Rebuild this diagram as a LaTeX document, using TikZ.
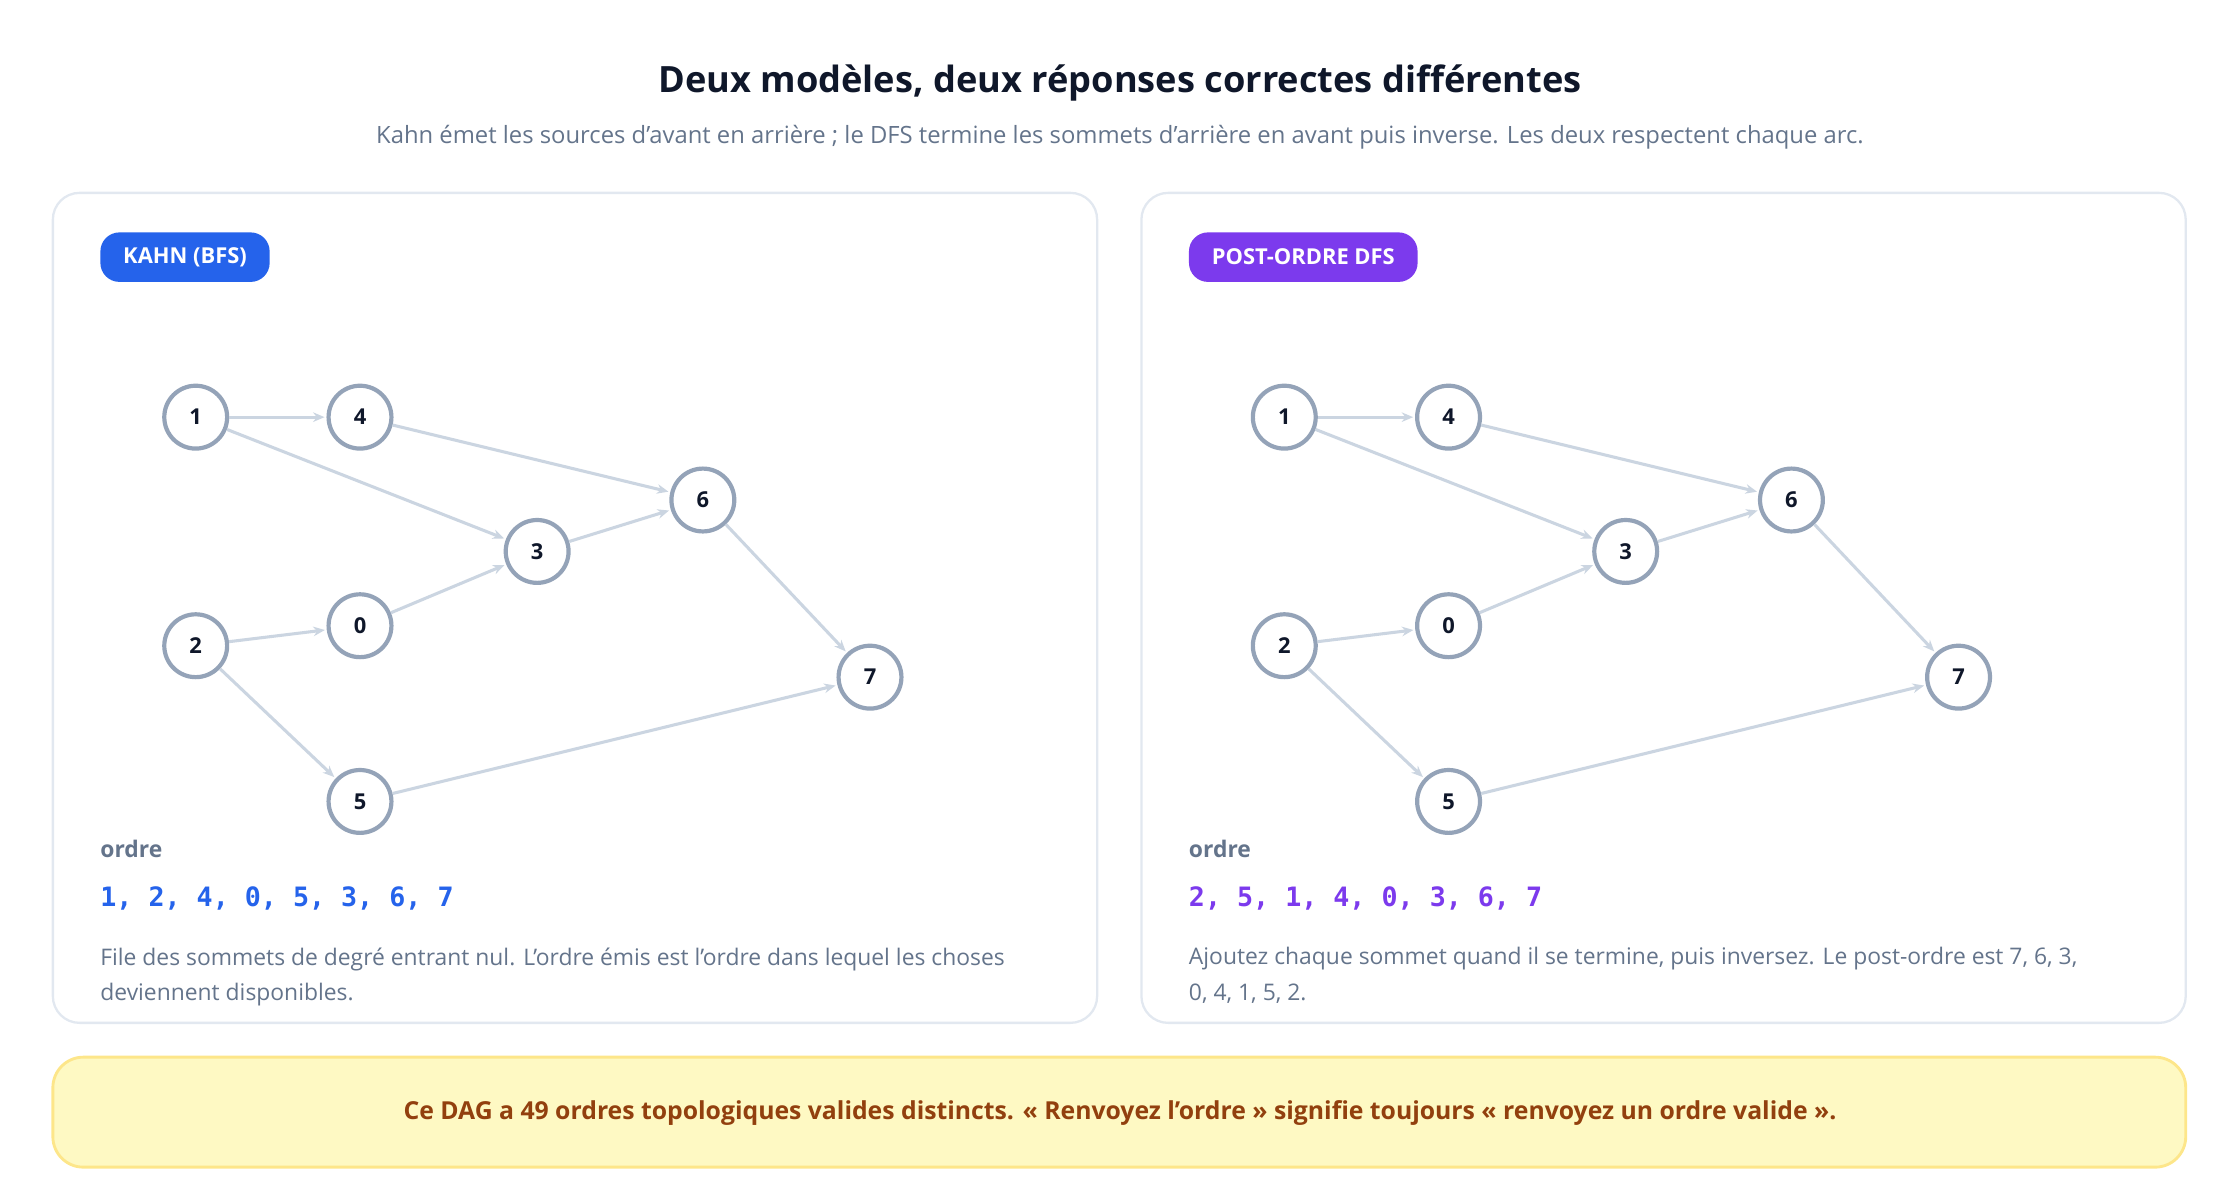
\documentclass[tikz,border=0pt]{standalone}
\usepackage{fontspec}
\setmainfont{Open Sans}
\setmonofont{DejaVu Sans Mono}
\usetikzlibrary{arrows.meta}
\definecolor{kInk}{HTML}{0F172A}
\definecolor{kMuted}{HTML}{64748B}
\definecolor{kFrame}{HTML}{E2E8F0}
\definecolor{kRing}{HTML}{94A3B8}
\definecolor{kEdge}{HTML}{CBD5E1}
\definecolor{kBlue}{HTML}{2563EB}
\definecolor{kPurple}{HTML}{7C3AED}
\definecolor{kNote}{HTML}{FEF9C3}
\definecolor{kNoteRim}{HTML}{FDE68A}
\definecolor{kBrown}{HTML}{92400E}
\newcommand{\fs}[1]{\fontsize{#1}{18.75pt}\selectfont}
\tikzset{
  vertex/.style={circle,draw=kRing,line width=2.2pt,fill=white,minimum size=33pt,
    inner sep=0pt,font=\fs{11.5pt}\bfseries,text=kInk},
  arc/.style={draw=kEdge,line width=1.6pt,-{Stealth[length=6pt,width=5pt]},shorten >=1pt},
  panel/.style={draw=kFrame,line width=1.2pt,rounded corners=14pt,fill=white},
  badge/.style={rounded corners=10pt,text=white,font=\fs{11.5pt}\bfseries,
    minimum height=26pt,inner xsep=12pt,anchor=west},
}
\begin{document}
\begin{tikzpicture}[x=0.75pt,y=-0.75pt]
  \useasboundingbox (0,0) rectangle (1568,840);

  % heading
  \node[font=\fs{19pt}\bfseries,text=kInk] (title) at (784,58)
    {Deux modèles, deux réponses correctes différentes};
  \node[font=\fs{12.5pt},text=kMuted] (sub) at (784,96)
    {Kahn émet les sources d’avant en arrière ; le DFS termine les sommets d’arrière en avant puis inverse. Les deux respectent chaque arc.};

  % panels
  \foreach \px/\p/\col/\lab in {0/L/kBlue/KAHN (BFS), 762/R/kPurple/POST-ORDRE DFS}
  {
    \draw[panel] (37+\px,135) rectangle (768+\px,716);
    \node[badge,fill=\col] (badge\p) at (70+\px,180) {\lab};

    \foreach \n/\x/\y in {1/137/292, 4/252/292, 6/492/350, 3/376/386,
                          0/252/438, 2/137/452, 7/609/474, 5/252/561}
      \node[vertex] (\p\n) at (\x+\px,\y) {\n};

    \foreach \a/\b in {1/4, 1/3, 4/6, 3/6, 0/3, 2/0, 2/5, 6/7, 5/7}
      \draw[arc] (\p\a) -- (\p\b);

    \node[anchor=west,inner sep=0pt,font=\fs{12pt}\bfseries,text=kMuted] (ordre\p) at (70+\px,594) {ordre};
  }

  % orders
  \node[anchor=west,inner sep=0pt,font=\fs{14pt}\ttfamily\bfseries,text=kBlue] (seqL) at (70,629)
    {1, 2, 4, 0, 5, 3, 6, 7};
  \node[anchor=west,inner sep=0pt,font=\fs{14pt}\ttfamily\bfseries,text=kPurple] (seqR) at (832,629)
    {2, 5, 1, 4, 0, 3, 6, 7};

  % notes
  \node[anchor=north west,align=left,font=\fs{12pt},text=kMuted,inner sep=0pt] (descL) at (70,663)
    {File des sommets de degré entrant nul. L’ordre émis est l’ordre dans lequel les choses\\deviennent disponibles.};
  \node[anchor=north west,align=left,font=\fs{12pt},text=kMuted,inner sep=0pt] (descR) at (832,663)
    {Ajoutez chaque sommet quand il se termine, puis inversez. Le post-ordre est 7, 6, 3,\\0, 4, 1, 5, 2.};

  % banner
  \draw[fill=kNote,draw=kNoteRim,line width=1.5pt,rounded corners=16pt] (37,740) rectangle (1530,817);
  \node[font=\fs{13pt}\bfseries,text=kBrown] (banner) at (784,779)
    {Ce DAG a 49 ordres topologiques valides distincts. « Renvoyez l’ordre » signifie toujours « renvoyez un ordre valide ».};
\end{tikzpicture}
\end{document}
